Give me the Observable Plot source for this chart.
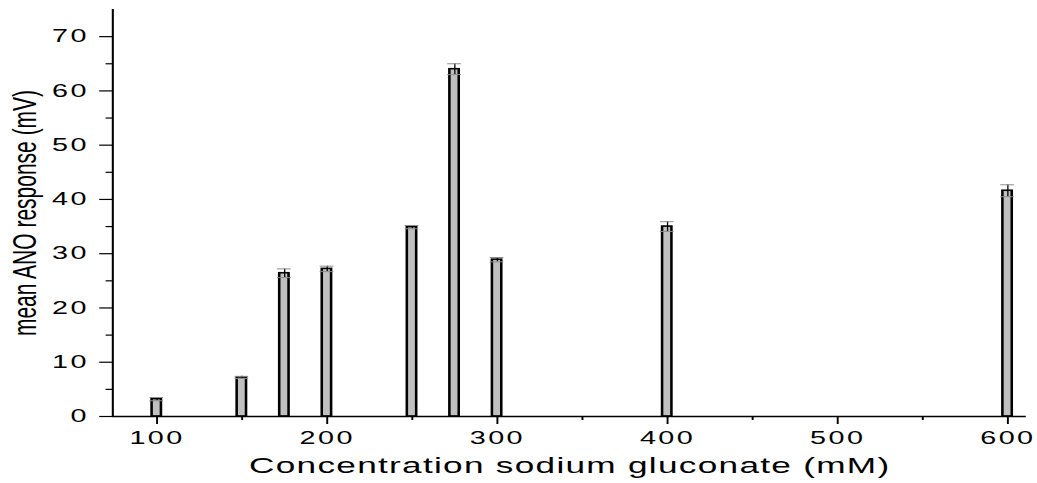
<!DOCTYPE html>
<html>
<head>
<meta charset="utf-8">
<script src="https://cdn.jsdelivr.net/npm/d3@7"></script>
<script src="https://cdn.jsdelivr.net/npm/@observablehq/plot@0.6"></script>
<style>
  html, body { margin: 0; padding: 0; background: #fff; overflow: hidden; }
  /* the plot is drawn on a narrower canvas and widened horizontally */
  #chart { width: 648px; transform: scaleX(1.6003); transform-origin: 0 0; }
  #chart svg text { letter-spacing: 1.5px; }
  #chart g[aria-label="x-axis label"] text { font-size: 22px; letter-spacing: 0.8px; }
  #chart g[aria-label="y-axis label"] text { font-size: 21px; letter-spacing: 0; }
</style>
</head>
<body>
<div id="chart"></div>
<script>
// Sodium gluconate concentration (mM) and the mean ANO response (mV) with its error
const concentrations = [100, 150, 175, 200, 250, 275, 300, 400, 600];
const meanResponse   = [3.2, 7.2, 26.4, 27.2, 34.9, 64.0, 28.9, 35.0, 41.6];
const responseError  = [0.3, 0.2, 0.8, 0.5, 0.3, 1.0, 0.4, 0.9, 1.1];

const xMajorTicks = [100, 200, 300, 400, 500, 600];
const xMinorTicks = [150, 250, 350, 450, 550];
const yMajorTicks = [0, 10, 20, 30, 40, 50, 60, 70];
const yMinorTicks = [5, 15, 25, 35, 45, 55, 65];
const xDomain = [74, 611];
const yDomain = [0, 75];

const rows = concentrations.map((c, i) => ({c, v: meanResponse[i], e: responseError[i]}));

const barHalf = 2.75;  // half bar width, in mM
const capHalf = 4;     // half error-cap width, in mM

const chart = Plot.plot({
  width: 648,
  height: 483,
  marginLeft: 70,
  marginRight: 7,
  marginTop: 9,
  marginBottom: 67,
  style: {fontFamily: "'Liberation Sans', Arial, sans-serif", background: "#fff", color: "#000"},
  x: {domain: xDomain},
  y: {domain: yDomain},
  marks: [
    Plot.rectY(rows, {
      x1: d => d.c - barHalf, x2: d => d.c + barHalf, y1: 0, y2: "v",
      fill: "#c0c0c0", stroke: "#000", strokeWidth: 1.6
    }),
    Plot.ruleX(rows, {x: "c", y1: d => d.v - d.e, y2: d => d.v + d.e, stroke: "#000", strokeWidth: 0.8}),
    Plot.ruleY(rows, {y: d => d.v + d.e, x1: d => d.c - capHalf, x2: d => d.c + capHalf, stroke: "#8c8c8c", strokeWidth: 1}),
    Plot.ruleY(rows, {y: d => d.v - d.e, x1: d => d.c - capHalf, x2: d => d.c + capHalf, stroke: "#8c8c8c", strokeWidth: 1}),

    Plot.axisY(yMinorTicks, {tickSize: 4, tickFormat: () => "", label: null, strokeWidth: 1.2}),
    Plot.axisY(yMajorTicks, {
      tickSize: 8, tickPadding: 7, fontSize: 18, strokeWidth: 1.2,
      label: "mean ANO response (mV)", labelAnchor: "center", labelArrow: "none", labelOffset: 63
    }),
    Plot.axisX(xMinorTicks, {tickSize: 4, tickFormat: () => "", label: null, strokeWidth: 1.2}),
    Plot.axisX(xMajorTicks, {
      tickSize: 8, tickPadding: 7, fontSize: 18, strokeWidth: 1.2,
      label: "Concentration sodium gluconate (mM)", labelAnchor: "center", labelArrow: "none", labelOffset: 56
    }),

    Plot.ruleX([xDomain[0]], {stroke: "#000", strokeWidth: 1.3}),
    Plot.ruleY([yDomain[0]], {stroke: "#000", strokeWidth: 1.3})
  ]
});

document.getElementById("chart").appendChild(chart);
</script>
</body>
</html>
